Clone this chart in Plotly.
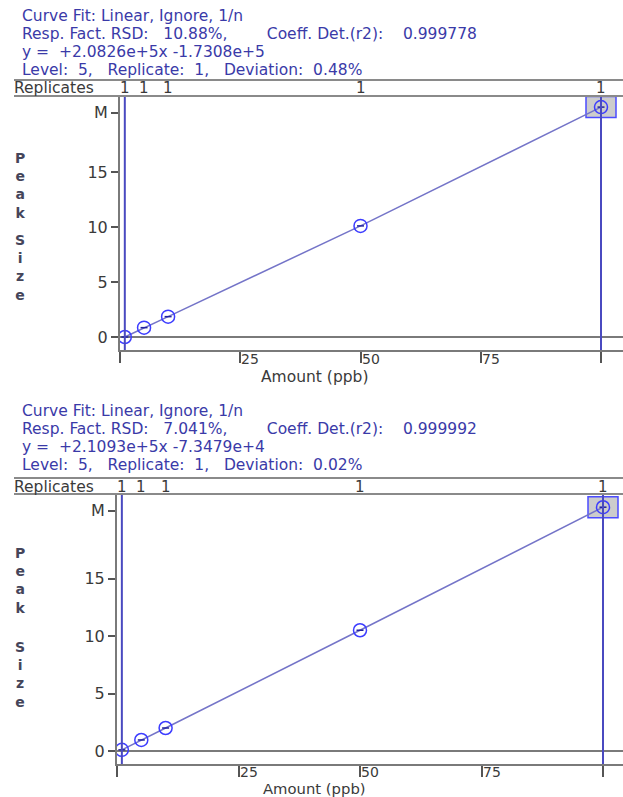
import plotly.graph_objects as go

W, H = 623, 797

# ---------------- data ----------------
amounts = [1, 5, 10, 50, 100]
peak_1 = [0.0, 0.85, 1.85, 10.1, 20.9]
peak_2 = [0.1, 0.96, 2.0, 10.5, 21.2]
replicates = ["1", "1", "1", "1", "1"]
y_tick_vals_1 = [0, 5, 10, 15, 20.4]
y_tick_vals_2 = [0, 5, 10, 15, 20.9]
y_tick_text = ["0", "5", "10", "15", "M"]
x_tick_vals = [0, 25, 50, 75, 100]
x_tick_labels = ["", "25", "50", "75", ""]
header_1 = [
    "Curve Fit: Linear, Ignore, 1/n",
    "Resp. Fact. RSD:   10.88%,        Coeff. Det.(r2):    0.999778",
    "y =  +2.0826e+5x -1.7308e+5",
    "Level:  5,   Replicate:  1,   Deviation:  0.48%",
]
header_2 = [
    "Curve Fit: Linear, Ignore, 1/n",
    "Resp. Fact. RSD:   7.041%,        Coeff. Det.(r2):    0.999992",
    "y =  +2.1093e+5x -7.3479e+4",
    "Level:  5,   Replicate:  1,   Deviation:  0.02%",
]
selected_index = 4

FONT = "DejaVu Sans, Verdana, sans-serif"
HDR_COLOR = "#3a3aa8"
TXT_COLOR = "#3a3a3a"
AX_COLOR = "#7a7a7a"
LINE_COLOR = "#7474c8"
MK_COLOR = "#3c3cff"
VLINE_COLOR = "#4a4ac0"


def py(px):
    """pixel row -> paper y"""
    return (H - px) / H


def px_x(px):
    return px / W


# panel geometry (pixels)
panels = [
    dict(peaks=peak_1, header=header_1, ytv=y_tick_vals_1, hdr_rows=[16, 34, 52, 70],
         bar_top=80, bar_bot=96, rep_row=88.5, plot_bot=350, zero_px=337, x0_px=120,
         x100_px=601, ypx_per=11.0, amount_px=377, xlab_px=359, amount_size=15.5,
         peak_rows=[158, 240]),
    dict(peaks=peak_2, header=header_2, ytv=y_tick_vals_2, hdr_rows=[411, 429, 447, 465],
         bar_top=478, bar_bot=494, rep_row=486.5, plot_bot=764, zero_px=751, x0_px=117,
         x100_px=603, ypx_per=11.5, amount_px=788.6, xlab_px=772.4, amount_size=14.8,
         peak_rows=[553, 647]),
]

fig = go.Figure()
annotations = []
shapes = []
layout_axes = {}

for i, p in enumerate(panels, start=1):
    xs = "" if i == 1 else str(i)
    xname, yname = "x" + xs, "y" + xs
    scale_x = (p["x100_px"] - p["x0_px"]) / 100.0
    x_max = (W - p["x0_px"]) / scale_x
    y_min = -(p["plot_bot"] - p["zero_px"]) / p["ypx_per"]
    y_max = (p["zero_px"] - p["bar_bot"]) / p["ypx_per"]

    layout_axes["xaxis" + xs] = dict(
        domain=[px_x(p["x0_px"]), 1.0], range=[0, x_max], anchor=yname,
        showgrid=False, zeroline=False, showline=True, linecolor=AX_COLOR, linewidth=2,
        ticks="outside", ticklen=11, tickwidth=1.5, tickcolor="#555",
        tickvals=x_tick_vals, showticklabels=False, fixedrange=True,
    )
    layout_axes["yaxis" + xs] = dict(
        domain=[py(p["plot_bot"]), py(p["bar_bot"])], range=[y_min, y_max], anchor=xname,
        showgrid=False, zeroline=True, zerolinecolor=AX_COLOR, zerolinewidth=2,
        showline=True, linecolor=AX_COLOR, linewidth=2,
        ticks="outside", ticklen=7, tickwidth=1.5, tickcolor="#555",
        tickvals=p["ytv"], ticktext=y_tick_text, ticklabelstandoff=0,
        tickfont=dict(family=FONT, size=16, color=TXT_COLOR), fixedrange=True,
    )

    # highlighted level box (below traces)
    shapes.append(dict(
        type="rect", xref=xname, yref=yname, xsizemode="pixel", ysizemode="pixel",
        xanchor=amounts[selected_index], yanchor=p["peaks"][selected_index],
        x0=-15, x1=15, y0=-10.5, y1=10.5, layer="below",
        fillcolor="#cccccc", line=dict(color="#4b4bff", width=1.5),
    ))
    # range lines at min / max calibration amount
    for a in (amounts[0], amounts[-1]):
        shapes.append(dict(
            type="line", xref=xname, yref=yname + " domain", x0=a, x1=a, y0=0, y1=1,
            line=dict(color=VLINE_COLOR, width=2), layer="above",
        ))
    # replicates bar
    for row in (p["bar_top"], p["bar_bot"]):
        shapes.append(dict(
            type="line", xref="paper", yref="paper", x0=px_x(14), x1=1.0,
            y0=py(row), y1=py(row), line=dict(color="#8a8a8a", width=2),
        ))

    fig.add_trace(go.Scatter(
        x=amounts, y=p["peaks"], xaxis=xname, yaxis=yname, mode="lines",
        line=dict(color=LINE_COLOR, width=1.5), hoverinfo="skip", showlegend=False,
    ))
    fig.add_trace(go.Scatter(
        x=amounts, y=p["peaks"], xaxis=xname, yaxis=yname, mode="markers",
        marker=dict(symbol="circle-open", size=13, color=MK_COLOR, line=dict(width=1.5)),
        showlegend=False,
    ))
    fig.add_trace(go.Scatter(
        x=amounts, y=p["peaks"], xaxis=xname, yaxis=yname, mode="markers",
        marker=dict(symbol="line-ew", size=5, color="#2020a0",
                    line=dict(width=1.5, color="#2020a0")),
        showlegend=False, hoverinfo="skip",
    ))

    # header text
    for row, txt in zip(p["hdr_rows"], p["header"]):
        annotations.append(dict(
            text=txt.replace(" ", "\u00a0"), xref="paper", yref="paper",
            x=px_x(20), y=py(row), xanchor="left", yanchor="middle", showarrow=False,
            font=dict(family=FONT, size=15.5, color=HDR_COLOR),
        ))
    # replicates label + counts
    annotations.append(dict(
        text="Replicates", xref="paper", yref="paper", x=px_x(12),
        y=py(p["rep_row"]), xanchor="left", yanchor="middle",
        showarrow=False, font=dict(family=FONT, size=15.5, color=TXT_COLOR),
    ))
    for a, r in zip(amounts, replicates):
        annotations.append(dict(
            text=r, xref=xname, yref="paper", x=a,
            y=py(p["rep_row"]), xanchor="center", yanchor="middle",
            showarrow=False, font=dict(family=FONT, size=15, color=TXT_COLOR),
        ))
    # x tick labels (drawn to the right of tick marks)
    for v, lab in zip(x_tick_vals, x_tick_labels):
        if lab:
            annotations.append(dict(
                text=lab, xref=xname, yref="paper", x=v, y=py(p["xlab_px"]),
                xanchor="left", yanchor="middle", xshift=-1, showarrow=False,
                font=dict(family=FONT, size=14, color=TXT_COLOR),
            ))
    # axis titles
    annotations.append(dict(
        text="Amount (ppb)", xref="paper", yref="paper", x=px_x(314), y=py(p["amount_px"]),
        xanchor="center", yanchor="middle", showarrow=False,
        font=dict(family=FONT, size=p["amount_size"], color=TXT_COLOR),
    ))
    for row, word in zip(p["peak_rows"], ["Peak", "Size"]):
        annotations.append(dict(
            text="<br>".join(word), xref="paper", yref="paper", x=px_x(20), y=py(row - 10),
            xanchor="center", yanchor="top", showarrow=False, align="center",
            font=dict(family=FONT, size=14, color="#45455a", weight="bold"),
        ))

fig.update_layout(
    width=W, height=H, margin=dict(l=0, r=0, t=0, b=0),
    paper_bgcolor="white", plot_bgcolor="white",
    annotations=annotations, shapes=shapes, showlegend=False,
    **layout_axes,
)

fig.write_html("out.html", config={"displayModeBar": False},
               post_script="document.body.style.margin='0';")
